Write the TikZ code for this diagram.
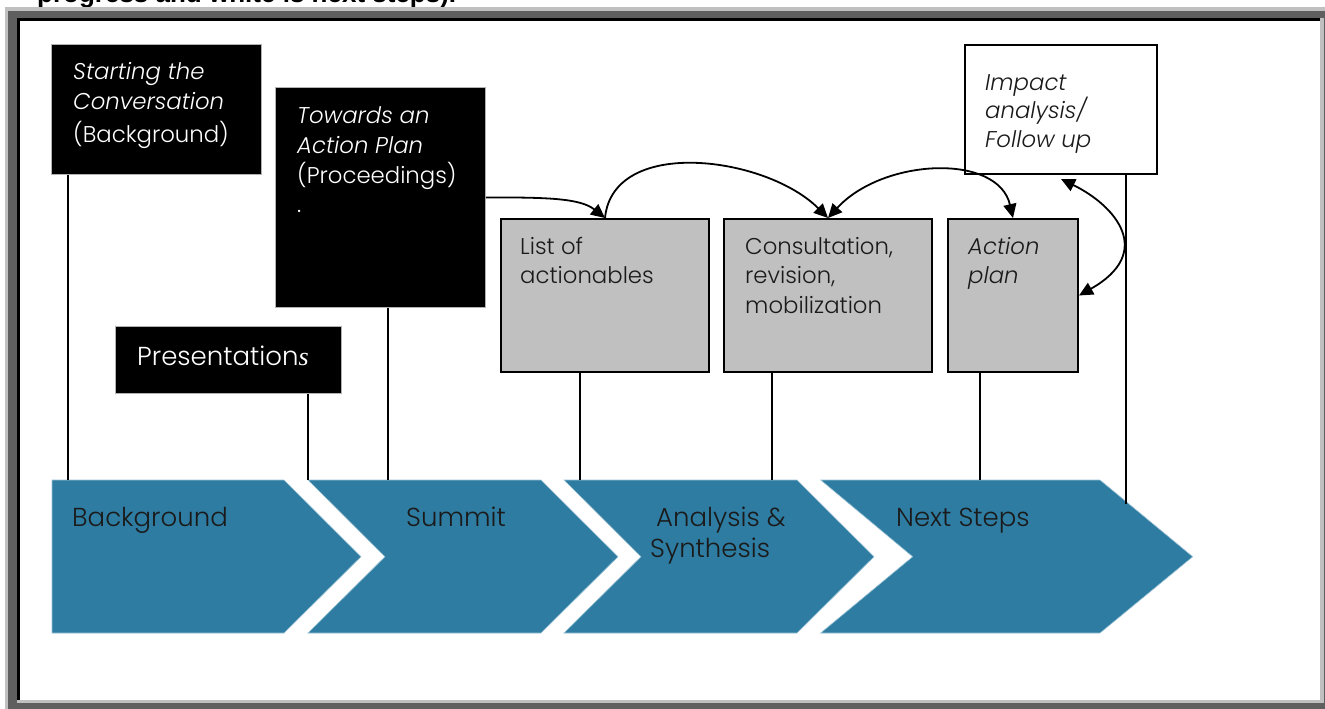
\documentclass[tikz,border=0pt]{standalone}
\usepackage{fontspec}
\setmainfont{Poppins}[UprightFont=* Light, ItalicFont=* Light Italic]
\newfontfamily\capfont{Liberation Sans}
\newfontfamily\serfont{Liberation Serif}
\usetikzlibrary{arrows.meta}
\definecolor{chevblue}{HTML}{2E7CA1}
\definecolor{chevedge}{HTML}{9CC3D6}
\definecolor{boxgray}{HTML}{C0C0C0}
\definecolor{frlight}{HTML}{C0C0C0}
\definecolor{frdark}{HTML}{5F5F5F}
\definecolor{inkdark}{HTML}{1A1A1A}
\newcommand\txtsz{\fontsize{22.8}{29}\selectfont}
\newcommand\bigsz{\fontsize{26}{30}\selectfont}
\tikzset{
  blackbox/.style={draw=gray!60, line width=0.8pt, fill=black, anchor=north west, inner sep=0pt},
  graybox/.style={draw=black, line width=2pt, fill=boxgray, anchor=north west, inner sep=0pt},
  whitebox/.style={draw=black, line width=2pt, fill=white, anchor=north west, inner sep=0pt},
  txtw/.style={anchor=base west, inner sep=0pt, text=white, font=\txtsz},
  txtk/.style={anchor=base west, inner sep=0pt, text=inkdark, font=\txtsz},
  chevlbl/.style={anchor=base west, inner sep=0pt, text=inkdark, font=\bigsz},
  chev/.style={fill=chevblue, draw=chevedge, line width=0.6pt},
  vline/.style={draw=black, line width=1.8pt},
  arr/.style={line width=1.8pt, -{Triangle[length=14pt, width=13pt]}},
  darr/.style={line width=1.8pt, {Triangle[length=14pt, width=13pt]}-{Triangle[length=14pt, width=13pt]}},
}
\begin{document}
\begin{tikzpicture}[x=1pt,y=-1pt]
\useasboundingbox (0,0) rectangle (1325,709);
\clip (0,0) rectangle (1325,709);
\fill[white] (0,0) rectangle (1325,709);
% caption cut off at the top
\node[anchor=base west, inner sep=0pt, font=\capfont\bfseries\fontsize{26}{30}\selectfont] (cap) at (37,2.5) {progress and white is next steps).};
% frame
\fill[frlight] (5,7) rectangle (1325,709);
\fill[frdark] (8,11) rectangle (1325,709);
\fill[frlight] (17,18) rectangle (1324,703);
\fill[black] (17,18) rectangle (1320,700);
\fill[white] (20,21) rectangle (1320,700);

% chevrons
\coordinate (chevtop) at (0,480);
\path[chev] (52,480) -- (284,480) -- (361,556.7) -- (284,633) -- (52,633) -- cycle;
\path[chev] (308,480) -- (541,480) -- (618,556.7) -- (541,633) -- (308,633) -- (385,556.7) -- cycle;
\path[chev] (564,480) -- (797,480) -- (874,556.7) -- (797,633) -- (564,633) -- (641,556.7) -- cycle;
\path[chev] (820.7,480) -- (1100,480) -- (1192.7,556.7) -- (1100,633) -- (820.7,633) -- (912.7,556.7) -- cycle;
\node[chevlbl] (lbg) at (72,526) {Background};
\node[chevlbl] (lsum) at (406,526) {Summit};
\node[chevlbl] (lana) at (656,526) {Analysis \&};
\node[chevlbl] (lsyn) at (650,557) {Synthesis};
\node[chevlbl] (lnext) at (896,526) {Next Steps};

% boxes
\node[blackbox, minimum width=210pt, minimum height=130pt] (start) at (51,44) {};
\node[blackbox, minimum width=210pt, minimum height=220pt] (towards) at (275,87) {};
\node[blackbox, minimum width=226pt, minimum height=67pt] (pres) at (115,326) {};
\node[graybox, minimum width=208pt, minimum height=153pt] (list) at (500,218) {};
\node[graybox, minimum width=208pt, minimum height=153pt] (consult) at (723,218) {};
\node[graybox, minimum width=130pt, minimum height=153pt] (action) at (947,218) {};
\node[whitebox, minimum width=192pt, minimum height=129pt] (impact) at (964,44) {};

% box texts
\node[txtw, font=\txtsz\itshape] (st1) at (73,80) {Starting the};
\node[txtw, font=\txtsz\itshape] (st2) at (73,109) {Conversation};
\node[txtw] (st3) at (73,142) {(Background)};
\node[txtw, font=\txtsz\itshape] (tw1) at (297,123) {Towards an};
\node[txtw, font=\txtsz\itshape] (tw2) at (297,153) {Action Plan};
\node[txtw] (tw3) at (297,183) {(Proceedings)};
\node[txtw] (tw4) at (297,212) {.};
\node[txtw, font=\bigsz] (pr1) at (137,365) {Presentation{\serfont\itshape s}};
\node[txtk] (li1) at (520,254) {List of};
\node[txtk] (li2) at (520,283) {actionables};
\node[txtk] (co1) at (745,254) {Consultation,};
\node[txtk] (co2) at (745,283) {revision,};
\node[txtk] (co3) at (745,313) {mobilization};
\node[txtk, font=\txtsz\itshape] (ac1) at (968,254) {Action};
\node[txtk, font=\txtsz\itshape] (ac2) at (968,283) {plan};
\node[txtk, font=\txtsz\itshape] (im1) at (985,90) {Impact};
\node[txtk, font=\txtsz\itshape] (im2) at (985,118.5) {analysis/};
\node[txtk, font=\txtsz\itshape] (im3) at (985,147) {Follow up};

% vertical connectors to the chevrons
\draw[vline] ([xshift=17pt]start.south west) coordinate (v1) -- (v1 |- chevtop);
\draw[vline] ([xshift=193pt]pres.south west) coordinate (v2) -- (v2 |- chevtop);
\draw[vline] ([xshift=113pt]towards.south west) coordinate (v3) -- (v3 |- chevtop);
\draw[vline] ([xshift=80pt]list.south west) coordinate (v4) -- (v4 |- chevtop);
\draw[vline] ([xshift=49pt]consult.south west) coordinate (v5) -- (v5 |- chevtop);
\draw[vline] ([xshift=33pt]action.south west) coordinate (v6) -- (v6 |- chevtop);
\draw[vline] ([xshift=-32pt]impact.south east) coordinate (v7) -- ([yshift=-329pt]v7);

% curved arrows
\draw[arr] (towards.east) .. controls +(60,0) and +(-25,-20) .. (list.north);
\draw[arr] (list.north) .. controls +(8,-82) and +(-62,-62) .. (consult.north);
\draw[darr] (consult.north) .. controls +(55,-60) and +(-15,-65) .. (action.north);
\draw[darr] ([yshift=-4pt]impact.south) .. controls +(55,27) and +(76,-43) .. (action.east);
\end{tikzpicture}
\end{document}
